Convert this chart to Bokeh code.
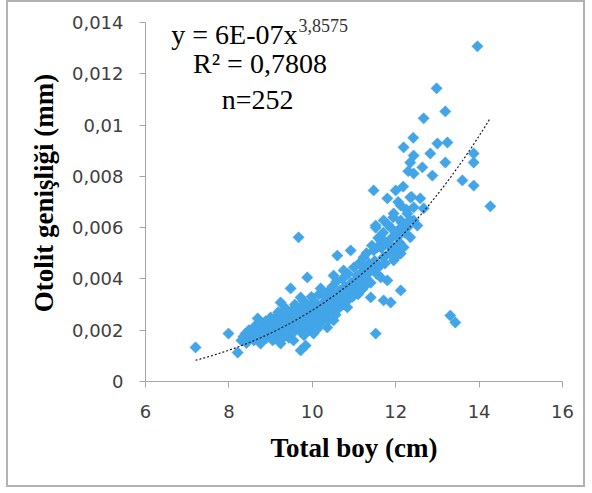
import numpy as np
from bokeh.plotting import figure
from bokeh.models import Range1d, FixedTicker, Label, ColumnDataSource
from bokeh.embed import file_html
from bokeh.resources import INLINE

# ---------------- data ----------------
# total length (cm)
total_boy = [
    # readings from the picture
    7.20, 7.99, 8.21, 8.40, 8.69, 8.93, 9.24, 9.48, 9.72, 9.88, 8.83, 9.07, 9.24, 9.41, 9.55,
    9.72, 9.00, 9.24, 9.55, 9.72, 9.79, 8.59, 8.76,
    11.52, 12.12, 10.60, 10.92, 11.23, 10.20, 10.51, 10.75, 11.08, 11.32, 11.64, 11.80, 12.12,
    11.71, 11.88, 11.16, 11.40, 10.99, 10.68, 10.84, 10.51, 10.27, 10.03, 9.88, 10.20, 10.51,
    10.36, 9.96, 9.79, 10.03, 11.52, 9.84, 11.64, 11.95, 12.12, 11.47, 11.71, 11.95,
    12.19, 12.43, 13.00, 13.24, 12.83, 13.19, 12.35, 13.87, 13.87, 12.43, 12.64, 12.88, 13.60,
    13.87, 14.27, 11.47, 12.00, 11.80, 12.35, 12.59, 12.12, 12.43, 12.67, 11.95, 12.28, 11.71,
    12.12, 12.43, 11.52, 11.88, 12.28, 12.52, 11.64, 12.04, 12.35, 11.56, 11.88, 12.19, 11.71,
    12.04,
    13.96, 12.98, 13.19, 12.67, 9.67, 13.31, 13.43,
    # dense band
    8.30, 8.35, 8.42, 8.48, 8.50, 8.55, 8.60, 8.62, 8.66, 8.70, 8.72, 8.75, 8.78, 8.80, 8.84,
    8.86, 8.88, 8.90, 8.92, 8.95,
    9.00, 9.02, 9.05, 9.06, 9.10, 9.12, 9.14, 9.16, 9.18, 9.20, 9.22, 9.25, 9.28, 9.30, 9.32,
    9.34, 9.36, 9.38, 9.40, 9.42, 9.44, 9.46, 9.48, 9.50, 9.52, 9.54, 9.56, 9.58, 9.60,
    9.64, 9.66, 9.68, 9.70, 9.72, 9.74, 9.76, 9.78, 9.80, 9.82, 9.84, 9.86, 9.88, 9.90, 9.92,
    9.94, 9.96, 9.98, 10.00, 10.02, 10.04, 10.06, 10.08, 10.10, 10.12, 10.14, 10.16, 10.18,
    10.20, 10.22,
    10.25, 10.28, 10.30, 10.33, 10.36, 10.38, 10.40, 10.43, 10.46, 10.48, 10.50, 10.53, 10.56,
    10.58, 10.60, 10.63, 10.66, 10.68, 10.72, 10.75, 10.78, 10.80, 10.84, 10.86, 10.90,
    10.93, 10.96, 11.00, 11.03, 11.06, 11.10, 11.12, 11.15, 11.18, 11.20, 11.24, 11.27, 11.30,
    11.33, 11.36, 11.40, 11.43, 11.46, 11.50, 11.54, 11.58, 11.62,
    11.66, 11.70, 11.74, 11.78, 11.82, 11.86, 11.90, 11.94, 11.98, 12.02, 12.06, 12.10, 12.14,
    12.18, 12.22, 12.26, 12.30, 12.34, 12.38, 12.42,
]
# otolith width (mm)
otolit_genisligi = [
    0.00133, 0.00187, 0.00113, 0.00187, 0.00246, 0.00211, 0.00308, 0.00363, 0.00328, 0.00406,
    0.00172, 0.00172, 0.00238, 0.00187, 0.00265, 0.00226, 0.00250, 0.00148, 0.00160, 0.00121,
    0.00277, 0.00199, 0.00148,
    0.00608, 0.00600, 0.00491, 0.00511, 0.00484, 0.00363, 0.00413, 0.00433, 0.00413, 0.00382,
    0.00406, 0.00394, 0.00355, 0.00316, 0.00308, 0.00355, 0.00328, 0.00335, 0.00296, 0.00289,
    0.00308, 0.00304, 0.00304, 0.00277, 0.00265, 0.00238, 0.00211, 0.00238, 0.00211, 0.00187,
    0.00187, 0.00140, 0.00550, 0.00523, 0.00499, 0.00511, 0.00484, 0.00472,
    0.00913, 0.00881, 0.00928, 0.00932, 0.00889, 0.00854, 0.00854, 0.00889, 0.00854, 0.00811,
    0.00835, 0.00803, 0.00784, 0.00764, 0.00683, 0.00745, 0.00745, 0.00714, 0.00718, 0.00714,
    0.00686, 0.00679, 0.00675, 0.00655, 0.00655, 0.00628, 0.00628, 0.00628, 0.00600, 0.00600,
    0.00600, 0.00608, 0.00562, 0.00562, 0.00562, 0.00523, 0.00523, 0.00523, 0.00484, 0.00491,
    0.01307, 0.01143, 0.01053, 0.01026, 0.00562, 0.00257, 0.00230,
    0.00160, 0.00175, 0.00150, 0.00200, 0.00170, 0.00185, 0.00160, 0.00215, 0.00190, 0.00175,
    0.00205, 0.00225, 0.00195, 0.00160, 0.00210, 0.00185, 0.00235, 0.00170, 0.00195, 0.00225,
    0.00185, 0.00210, 0.00160, 0.00230, 0.00195, 0.00250, 0.00175, 0.00215, 0.00270, 0.00200,
    0.00185, 0.00225, 0.00260, 0.00170, 0.00205, 0.00240, 0.00285, 0.00190, 0.00220, 0.00255,
    0.00170, 0.00200, 0.00235, 0.00275, 0.00215, 0.00190, 0.00245, 0.00300, 0.00225,
    0.00260, 0.00205, 0.00240, 0.00285, 0.00195, 0.00255, 0.00230, 0.00315, 0.00180, 0.00245,
    0.00270, 0.00215, 0.00300, 0.00235, 0.00260, 0.00200, 0.00285, 0.00330, 0.00250, 0.00220,
    0.00275, 0.00310, 0.00240, 0.00265, 0.00205, 0.00290, 0.00340, 0.00255, 0.00230, 0.00280,
    0.00305, 0.00250, 0.00330, 0.00270, 0.00290, 0.00350, 0.00240, 0.00315, 0.00275, 0.00370,
    0.00295, 0.00335, 0.00260, 0.00390, 0.00310, 0.00285, 0.00355, 0.00325, 0.00400, 0.00300,
    0.00370, 0.00340, 0.00315, 0.00420, 0.00360,
    0.00385, 0.00330, 0.00445, 0.00370, 0.00400, 0.00340, 0.00460, 0.00390, 0.00425, 0.00360,
    0.00445, 0.00405, 0.00500, 0.00420, 0.00460, 0.00385, 0.00530, 0.00440, 0.00470, 0.00420,
    0.00560, 0.00450,
    0.00520, 0.00580, 0.00460, 0.00540, 0.00610, 0.00500, 0.00560, 0.00640, 0.00520, 0.00580,
    0.00700, 0.00540, 0.00620, 0.00760, 0.00580, 0.00670, 0.00820, 0.00630, 0.00720, 0.00950,
]

# power trend line as drawn
trend_a = 5.8e-7
trend_b = 3.68

x_ticks = [6, 8, 10, 12, 14, 16]
y_ticks = [0, 0.002, 0.004, 0.006, 0.008, 0.01, 0.012, 0.014]
y_tick_labels = ["0", "0,002", "0,004", "0,006", "0,008", "0,01", "0,012", "0,014"]

eq_text = "y = 6E-07x"
eq_exp = "3,8575"
r2_text = "R\u00b2 = 0,7808"
n_text = "n=252"

x_label = "Total boy (cm)"
y_label = "Otolit geni\u015fli\u011fi (mm)"

# ---------------- figure ----------------
# y range reaches slightly above the last tick so the equation text is not clipped;
# the axis itself is bounded to 0..0.014
p = figure(width=579, height=487, output_backend="svg", toolbar_location=None,
           x_range=Range1d(6, 16), y_range=Range1d(0, 0.0147),
           min_border_left=137, min_border_right=25, min_border_top=2, min_border_bottom=108,
           styles={"border": "2px solid #b2b2b2", "margin-left": "6px"})
p.background_fill_color = "white"
p.border_fill_color = "white"
p.outline_line_color = None
p.xgrid.visible = False
p.ygrid.visible = False

src = ColumnDataSource(dict(x=total_boy, y=otolit_genisligi))
p.scatter("x", "y", source=src, marker="square", angle=np.pi / 4, size=8,
          fill_color="#42A5E8", line_color="#42A5E8", line_width=0.5)

tx = np.linspace(min(total_boy), max(total_boy), 200)
ty = trend_a * tx ** trend_b
p.line(tx, ty, line_color="#1a1a2e", line_width=1.2, line_dash="2 2")

for ax in (p.xaxis[0], p.yaxis[0]):
    ax.axis_line_color = "#a6a6a6"
    ax.major_tick_line_color = "#a6a6a6"
    ax.major_tick_out = 6
    ax.major_tick_in = 0
    ax.minor_tick_out = 0
    ax.minor_tick_in = 0
    ax.major_label_text_font = "DejaVu Sans"
    ax.major_label_text_font_size = "18px"
    ax.major_label_text_color = "#404040"
    ax.axis_label_text_font = "Liberation Serif"
    ax.axis_label_text_font_style = "bold"
    ax.axis_label_text_font_size = "27px"
    ax.axis_label_text_color = "black"

p.xaxis.ticker = FixedTicker(ticks=x_ticks)
p.yaxis.ticker = FixedTicker(ticks=y_ticks)
p.yaxis.bounds = (y_ticks[0], y_ticks[-1])
p.yaxis.major_label_overrides = {t: l for t, l in zip(y_ticks, y_tick_labels)}
p.xaxis.axis_label = x_label
p.yaxis.axis_label = y_label
p.xaxis.major_label_standoff = 17
p.yaxis.major_label_standoff = 16
p.xaxis.axis_label_standoff = 12
p.yaxis.axis_label_standoff = 10

ann_font = "Liberation Serif"
p.add_layout(Label(x=9.645, y=0.01353, text=eq_text, text_align="right",
                   text_baseline="alphabetic", text_font=ann_font, text_font_size="28px",
                   text_color="black"))
p.add_layout(Label(x=9.67, y=0.01388, text=eq_exp, text_align="left",
                   text_baseline="alphabetic", text_font=ann_font, text_font_size="18px",
                   text_color="#333333"))
p.add_layout(Label(x=8.745, y=0.0124, text=r2_text, text_align="center",
                   text_baseline="alphabetic", text_font=ann_font, text_font_size="28px",
                   text_color="black"))
p.add_layout(Label(x=8.69, y=0.0110, text=n_text, text_align="center",
                   text_baseline="alphabetic", text_font=ann_font, text_font_size="28px",
                   text_color="black"))

open("out.html", "w").write(file_html(p, INLINE))
